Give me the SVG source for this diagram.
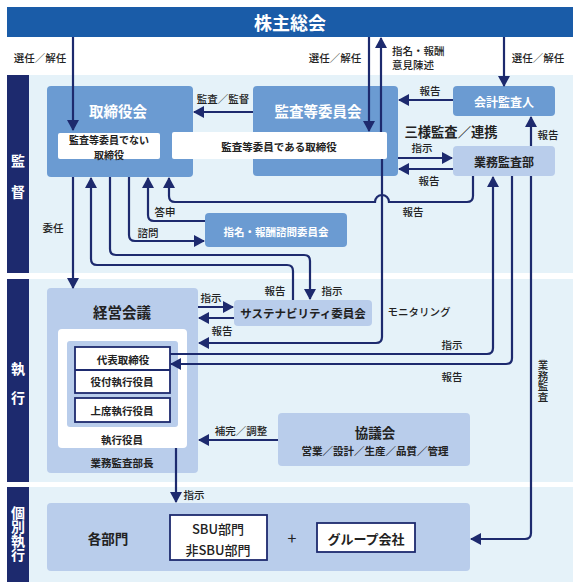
<svg xmlns="http://www.w3.org/2000/svg" width="580" height="588" viewBox="0 0 580 588">
<defs>
<marker id="ah" markerUnits="userSpaceOnUse" markerWidth="11" markerHeight="12" refX="10" refY="6" orient="auto">
<path d="M0,0 L11,6 L0,12 z" fill="#1d2a6e"/>
</marker>
<style>
text{font-family:"Noto Sans CJK JP","Noto Sans",sans-serif;fill:#222;text-anchor:middle;dominant-baseline:central}
.b{font-weight:bold}
.w{fill:#fff}
.lbl{font-size:10.5px;font-weight:500}
.band{fill:#e5f2f9}
.bar{fill:#1d2a6e}
.mid{fill:#6b9bd2}
.lt{fill:#b9cdeb}
.wb{fill:#fff}
.nb{fill:#fff;stroke:#1d2a6e;stroke-width:1.8}
.c path{fill:none;stroke:#1d2a6e;stroke-width:2.2}
.c .a{marker-end:url(#ah)}
</style>
</defs>
<rect width="580" height="588" fill="#fff"/>
<g id="bands">
<rect class="band" x="7" y="75" width="566" height="198"/>
<rect class="band" x="7" y="279" width="566" height="203"/>
<rect class="band" x="7" y="487" width="566" height="95"/>
<rect class="bar" x="7" y="75" width="22" height="198"/>
<rect class="bar" x="7" y="279" width="22" height="203"/>
<rect class="bar" x="7" y="487" width="22" height="95"/>
<text class="b w" x="18" y="160" font-size="14">監</text>
<text class="b w" x="18" y="191" font-size="14">督</text>
<text class="b w" x="18" y="368" font-size="14">執</text>
<text class="b w" x="18" y="397" font-size="14">行</text>
<text class="b w" x="18" y="534" font-size="14" style="writing-mode:vertical-rl;letter-spacing:0">個別執行</text>
</g>
<g id="kabunushi">
<rect x="7" y="7" width="566" height="30" fill="#1a5ca8"/>
<text class="b w" x="290" y="22" font-size="18">株主総会</text>
</g>
<g id="torishimariyakukai">
<rect class="mid" x="47" y="86" width="146" height="91" rx="4"/>
<text class="b w" x="118" y="110" font-size="14.5">取締役会</text>
<rect class="wb" x="58" y="133" width="102" height="26" rx="2"/>
<text class="b" font-size="10"><tspan x="109" y="139">監査等委員でない</tspan><tspan x="109" y="153.5">取締役</tspan></text>
</g>
<g id="kansatou">
<rect class="mid" x="253" y="86" width="145" height="90" rx="4"/>
<text class="b w" x="318" y="110" font-size="14.5">監査等委員会</text>
</g>
<g id="kansatou-torishimari">
<rect class="wb" x="172" y="132" width="215" height="27" rx="2"/>
<text class="b" x="279" y="146" font-size="10.5">監査等委員である取締役</text>
</g>
<g id="kaikei">
<rect class="mid" x="453" y="86" width="102" height="30" rx="4"/>
<text class="b w" x="504" y="101" font-size="12">会計監査人</text>
</g>
<g id="gyoumu">
<rect class="lt" x="453" y="146" width="102" height="30" rx="4"/>
<text class="b" x="504" y="161" font-size="12">業務監査部</text>
</g>
<g id="shimei">
<rect class="mid" x="205" y="213" width="142" height="34" rx="4"/>
<text class="b w" x="276" y="231" font-size="10.5">指名・報酬諮問委員会</text>
</g>
<g id="sustainability">
<rect class="lt" x="234" y="300" width="138" height="26" rx="4"/>
<text class="b" x="303" y="313" font-size="11.5">サステナビリティ委員会</text>
</g>
<g id="keiei">
<rect class="lt" x="47" y="288" width="151" height="185" rx="4"/>
<text class="b" x="122" y="311" font-size="14.5">経営会議</text>
<rect class="wb" x="58" y="329" width="129" height="119" rx="4"/>
<rect class="lt" x="67" y="341" width="111" height="86" rx="3"/>
<rect class="nb" x="75" y="347" width="95" height="46"/>
<line x1="75" y1="370" x2="170" y2="370" stroke="#1d2a6e" stroke-width="1.8"/>
<rect class="nb" x="75" y="398" width="95" height="24"/>
<text class="b" x="123" y="359" font-size="10.5">代表取締役</text>
<text class="b" x="122" y="381" font-size="10.5">役付執行役員</text>
<text class="b" x="122" y="410" font-size="10.5">上席執行役員</text>
<text class="b" x="122" y="439" font-size="10.5">執行役員</text>
<text class="b" x="122" y="462" font-size="10.5">業務監査部長</text>
</g>
<g id="kyougikai">
<rect class="lt" x="278" y="413" width="192" height="53" rx="4"/>
<text class="b" x="375" y="432" font-size="13.5">協議会</text>
<text class="b" x="375" y="450" font-size="10.5">営業／設計／生産／品質／管理</text>
</g>
<g id="kakubumon">
<rect class="lt" x="47" y="503" width="423" height="68" rx="4"/>
<text class="b" x="108" y="538" font-size="13.5">各部門</text>
<rect class="nb" x="170" y="515" width="97" height="45"/>
<text x="218" y="528" font-size="13" font-weight="500">SBU部門</text>
<text x="218" y="549" font-size="13" font-weight="500">非SBU部門</text>
<text x="292" y="537" font-size="16">+</text>
<rect class="nb" x="317" y="523" width="98" height="29"/>
<text class="b" x="366" y="538" font-size="13">グループ会社</text>
</g>
<g id="connectors" class="c">
<path class="a" d="M73,37 V130"/>
<path class="a" d="M369,37 V131"/>
<path class="a" d="M381,132 V38"/>
<path class="a" d="M253,112 H194"/>
<path class="a" d="M453,100 H399"/>
<path class="a" d="M504,37 V86"/>
<path class="a" d="M531,146 V117"/>
<path class="a" d="M398,158 H452"/>
<path class="a" d="M453,169 H399"/>
<path class="a" d="M473,176 V196 Q473,202 467,202 H389 A7,7 0 0 0 375,202 H175 Q169,202 169,196 V178"/>
<path class="a" d="M205,221 H154 Q148,221 148,215 V178"/>
<path class="a" d="M129,177 V235 Q129,241 135,241 H204"/>
<path class="a" d="M110,177 V249 Q110,255 116,255 H304 Q310,255 310,261 V299"/>
<path class="a" d="M293,300 V271 Q293,265 287,265 H97 Q91,265 91,259 V178"/>
<path class="a" d="M73,177 V288"/>
<path class="a" d="M198,307 H233"/>
<path class="a" d="M234,318 H199"/>
<path class="a" d="M382,159 V337 Q382,343 376,343 H199"/>
<path class="a" d="M170,354 H487 Q493,354 493,348 V177"/>
<path class="a" d="M512,176 V358 Q512,364 506,364 H171"/>
<path class="a" d="M531,176 V533 Q531,539 525,539 H471"/>
<path class="a" d="M278,440 H199"/>
<path class="a" d="M176,448 V502"/>
</g>
<g id="labels">
<text class="lbl" x="40" y="57">選任／解任</text>
<text class="lbl" x="335" y="57">選任／解任</text>
<text class="lbl" x="538" y="57">選任／解任</text>
<text class="lbl" x="392" y="50" style="text-anchor:start">指名・報酬</text>
<text class="lbl" x="392" y="64" style="text-anchor:start">意見陳述</text>
<text class="lbl" x="223" y="98">監査／監督</text>
<text class="lbl" x="430" y="90">報告</text>
<text class="b" x="451" y="131" font-size="13.3">三様監査／連携</text>
<text class="lbl" x="548" y="134">報告</text>
<text class="lbl" x="422" y="147">指示</text>
<text class="lbl" x="429" y="180">報告</text>
<text class="lbl" x="413" y="211">報告</text>
<text class="lbl" x="165" y="211">答申</text>
<text class="lbl" x="148" y="232">諮問</text>
<text class="lbl" x="53" y="227">委任</text>
<text class="lbl" x="275" y="290">報告</text>
<text class="lbl" x="332" y="290">指示</text>
<text class="lbl" x="211" y="297">指示</text>
<text class="lbl" x="222" y="330">報告</text>
<text class="lbl" x="419" y="311">モニタリング</text>
<text class="lbl" x="452" y="344">指示</text>
<text class="lbl" x="452" y="376">報告</text>
<text class="lbl" x="543" y="381" style="writing-mode:vertical-rl">業務監査</text>
<text class="lbl" x="241" y="430">補完／調整</text>
<text class="lbl" x="194" y="494">指示</text>
</g>
</svg>
